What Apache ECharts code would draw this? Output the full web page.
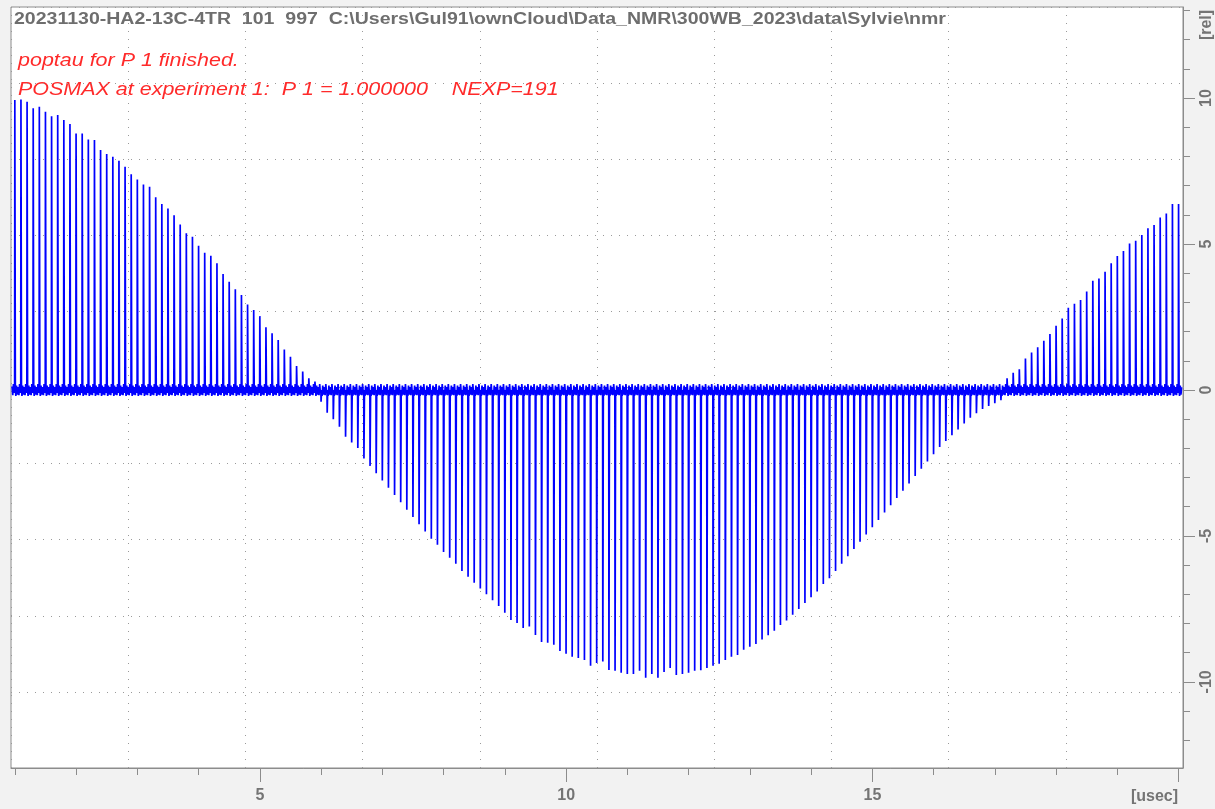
<!DOCTYPE html>
<html>
<head>
<meta charset="utf-8">
<title>popt P1</title>
<script src="https://cdn.jsdelivr.net/npm/echarts@6/dist/echarts.min.js"></script>
<style>
  html, body { margin: 0; padding: 0; background: #f2f2f2; }
  #chart { width: 1215px; height: 809px; }
</style>
</head>
<body>
<div id="chart"></div>
<script>
// experiment P1 values (usec): 191 experiments, 1.0 .. 20.0
const P1_START = 1.0;
const P1_STEP = 0.1;
const NEXP = 191;

// peak height of each experiment (rel)
const PEAK = [
  9.93, 9.95, 9.87, 9.65, 9.70, 9.53, 9.38, 9.42, 9.25, 9.11,
  8.79, 8.79, 8.58, 8.56, 8.22, 8.08, 7.99, 7.85, 7.65, 7.39,
  7.21, 7.04, 6.96, 6.60, 6.37, 6.22, 5.99, 5.67, 5.37, 5.25,
  4.94, 4.70, 4.60, 4.34, 3.97, 3.71, 3.45, 3.25, 2.93, 2.74,
  2.53, 2.15, 1.94, 1.71, 1.39, 1.14, 0.82, 0.63, 0.40, 0.29,
  -0.40, -0.78, -1.00, -1.26, -1.60, -1.80, -1.99, -2.35, -2.60, -2.85,
  -3.10, -3.35, -3.60, -3.85, -4.10, -4.35, -4.60, -4.85, -5.10, -5.30,
  -5.55, -5.75, -5.95, -6.20, -6.40, -6.60, -6.80, -7.00, -7.20, -7.40,
  -7.63, -7.88, -7.98, -8.15, -8.10, -8.39, -8.63, -8.66, -8.73, -8.94,
  -9.04, -9.14, -9.18, -9.25, -9.45, -9.35, -9.30, -9.59, -9.62, -9.69,
  -9.73, -9.73, -9.62, -9.86, -9.73, -9.86, -9.66, -9.52, -9.76, -9.73,
  -9.69, -9.62, -9.60, -9.52, -9.45, -9.38, -9.25, -9.14, -9.08, -8.90,
  -8.80, -8.70, -8.55, -8.40, -8.25, -8.05, -7.90, -7.70, -7.50, -7.30,
  -7.10, -6.90, -6.65, -6.45, -6.20, -5.95, -5.70, -5.45, -5.20, -4.95,
  -4.70, -4.45, -4.20, -3.95, -3.70, -3.45, -3.20, -2.95, -2.70, -2.45,
  -2.20, -1.95, -1.75, -1.55, -1.35, -1.15, -0.95, -0.80, -0.65, -0.55,
  -0.45, -0.35,
  0.40, 0.59, 0.71, 1.08, 1.28, 1.46, 1.69, 1.92, 2.20, 2.45,
  2.82, 2.95, 3.08, 3.37, 3.74, 3.82, 4.05, 4.34, 4.59, 4.76,
  5.02, 5.11, 5.31, 5.54, 5.65, 5.91, 6.05, 6.37, 6.37
];

// small baseline wiggle inside every experiment slot (rel)
const BASE_LEFT = [0.12, -0.18, 0.2, -0.1];
const BASE_RIGHT = [-0.2, 0.15, -0.16, 0.1];

// tick values
const X_TICKS = [1, 2, 3, 4, 5, 6, 7, 8, 9, 10, 11, 12, 13, 14, 15, 16, 17, 18, 19, 20];
const X_MAJOR = [5, 10, 15, 20];
const X_LABELS = [5, 10, 15];
const Y_TICKS = [-12, -11, -10, -9, -8, -7, -6, -5, -4, -3, -2, -1, 0, 1, 2, 3, 4, 5, 6, 7, 8, 9, 10, 11, 12, 13];
const Y_LABELS = [-10, -5, 0, 5, 10];

const HEADER = '20231130-HA2-13C-4TR  101  997  C:\\Users\\Gul91\\ownCloud\\Data_NMR\\300WB_2023\\data\\Sylvie\\nmr';
const MSG1 = 'poptau for P 1 finished.';
const MSG2 = 'POSMAX at experiment 1:  P 1 = 1.000000    NEXP=191';

// build the row of spectra: one slot per experiment
let points = [];
for (let k = 0; k < NEXP; k++) {
  let p = P1_START + P1_STEP * k;
  let w = P1_STEP / 2;
  points.push([p - w * 0.95, BASE_LEFT[0]]);
  points.push([p - w * 0.72, BASE_LEFT[1]]);
  points.push([p - w * 0.50, BASE_LEFT[2]]);
  points.push([p - w * 0.28, BASE_LEFT[3]]);
  points.push([p - w * 0.12, 0]);
  points.push([p - w * 0.05, PEAK[k]]);
  points.push([p + w * 0.05, PEAK[k]]);
  points.push([p + w * 0.12, 0]);
  points.push([p + w * 0.28, BASE_RIGHT[0]]);
  points.push([p + w * 0.50, BASE_RIGHT[1]]);
  points.push([p + w * 0.72, BASE_RIGHT[2]]);
  points.push([p + w * 0.95, BASE_RIGHT[3]]);
}

const GRAY = '#747474';
const AXIS_GRAY = '#8c8c8c';
const FONT = 'Liberation Sans, Arial, sans-serif';
const X_MIN = 0.935, X_MAX = 20.07;
const Y_MIN = -12.95, Y_MAX = 13.12;
const RECT = { left: 11, right: 32, top: 7, bottom: 41 };

let chart = echarts.init(document.getElementById('chart'));
chart.setOption({
  animation: false,
  backgroundColor: '#f2f2f2',
  grid: [
    Object.assign({ show: true, backgroundColor: '#ffffff', borderColor: AXIS_GRAY, borderWidth: 1 }, RECT),
    Object.assign({ show: false }, RECT)
  ],
  xAxis: [
    {
      // data axis, short ticks
      gridIndex: 0, type: 'value', min: X_MIN, max: X_MAX, position: 'bottom',
      axisLine: { show: true, onZero: false, lineStyle: { color: AXIS_GRAY } },
      axisTick: { show: true, length: 7, customValues: X_TICKS, lineStyle: { color: AXIS_GRAY } },
      axisLabel: { show: false },
      splitLine: { show: false }
    },
    {
      // dotted division grid
      gridIndex: 0, type: 'value', min: 0, max: 10, interval: 1, position: 'top',
      axisLine: { show: false, onZero: false }, axisTick: { show: false }, axisLabel: { show: false },
      splitLine: { show: true, lineStyle: { color: '#9a9a9a', type: [1, 7] } }
    },
    {
      // long ticks and labels
      gridIndex: 1, type: 'value', min: X_MIN, max: X_MAX, position: 'bottom',
      axisLine: { show: false, onZero: false },
      axisTick: { show: true, length: 14, customValues: X_MAJOR, lineStyle: { color: AXIS_GRAY } },
      axisLabel: {
        show: true, margin: 20, customValues: X_LABELS,
        color: GRAY, fontWeight: 'bold', fontSize: 16, fontFamily: FONT
      },
      splitLine: { show: false }
    }
  ],
  yAxis: [
    {
      gridIndex: 0, type: 'value', min: Y_MIN, max: Y_MAX, position: 'right',
      axisLine: { show: true, onZero: false, lineStyle: { color: AXIS_GRAY } },
      axisTick: { show: true, length: 7, customValues: Y_TICKS, lineStyle: { color: AXIS_GRAY } },
      axisLabel: { show: false },
      splitLine: { show: false }
    },
    {
      gridIndex: 0, type: 'value', min: 0, max: 10, interval: 1, position: 'left',
      axisLine: { show: false, onZero: false }, axisTick: { show: false }, axisLabel: { show: false },
      splitLine: { show: true, lineStyle: { color: '#9a9a9a', type: [1, 7] } }
    },
    {
      gridIndex: 1, type: 'value', min: Y_MIN, max: Y_MAX, position: 'right',
      axisLine: { show: false, onZero: false },
      axisTick: { show: true, length: 12, customValues: Y_LABELS, lineStyle: { color: AXIS_GRAY } },
      axisLabel: {
        show: true, margin: 16, rotate: 90, customValues: Y_LABELS,
        color: GRAY, fontWeight: 'bold', fontSize: 16, fontFamily: FONT
      },
      splitLine: { show: false }
    }
  ],
  graphic: [
    { type: 'text', x: 14, y: 20, scaleX: 1.22,
      style: { text: HEADER, fill: '#6e6e6e', fontWeight: 'bold', fontSize: 16, fontFamily: FONT, verticalAlign: 'middle' } },
    { type: 'text', x: 18, y: 61, scaleX: 1.13,
      style: { text: MSG1, fill: '#ff2a2a', fontStyle: 'italic', fontSize: 19, fontFamily: FONT, verticalAlign: 'middle' } },
    { type: 'text', x: 18, y: 90, scaleX: 1.13,
      style: { text: MSG2, fill: '#ff2a2a', fontStyle: 'italic', fontSize: 19, fontFamily: FONT, verticalAlign: 'middle' } },
    { type: 'text', x: 1178, y: 797,
      style: { text: '[usec]', fill: GRAY, fontWeight: 'bold', fontSize: 16, fontFamily: FONT, align: 'right', verticalAlign: 'middle' } },
    { type: 'text', x: 1207, y: 25, rotation: Math.PI / 2,
      style: { text: '[rel]', fill: GRAY, fontWeight: 'bold', fontSize: 16, fontFamily: FONT, align: 'center', verticalAlign: 'middle' } }
  ],
  series: [{
    type: 'line',
    xAxisIndex: 0, yAxisIndex: 0,
    data: points,
    showSymbol: false, symbol: 'none',
    sampling: false,
    lineStyle: { color: '#0000ff', width: 1.7 },
    z: 5
  }]
});
</script>
</body>
</html>
